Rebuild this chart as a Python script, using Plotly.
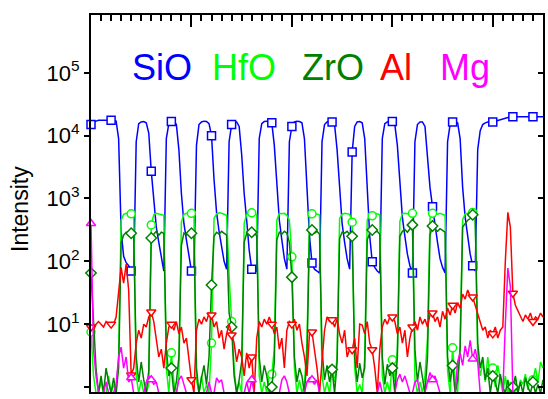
import plotly.graph_objects as go

# ---------------- data ----------------
depth_step = 0.25
n_points = 181
depth = [i * depth_step for i in range(n_points)]
marker_every = 8

sio = [15000, 16500, 17000, 17500, 17500, 17500, 17500, 17500, 17500, 17500,
       17000, 9000, 300, 120, 95, 85, 70, 65, 8000, 15500,
       16500, 16800, 16000, 11000, 2700, 900, 350, 200, 110, 70,
       9000, 15500, 16800, 17000, 15000, 6000, 1200, 400, 220, 130,
       70, 65, 7000, 15000, 16500, 17000, 16800, 15500, 10000, 2000,
       600, 300, 180, 100, 75, 8000, 15000, 16500, 16500, 14000,
       5000, 1200, 450, 150, 75, 68, 70, 9000, 15500, 16800,
       17000, 16500, 16000, 7000, 1500, 450, 220, 110, 75, 8000,
       14000, 16500, 17000, 16800, 16000, 9000, 1500, 250, 94, 75,
       70, 65, 8000, 15000, 16500, 16800, 16500, 15000, 6000, 1300,
       400, 200, 110, 75, 5500, 14000, 16500, 16800, 16000, 9000,
       1500, 250, 98, 80, 70, 65, 9000, 15500, 16500, 17000,
       16800, 15000, 7000, 1500, 500, 250, 130, 85, 65, 8000,
       15000, 16500, 16500, 14000, 5000, 1500, 740, 350, 200, 110,
       80, 65, 8000, 15000, 16500, 16800, 16000, 9000, 1500, 500,
       250, 130, 85, 70, 6000, 12000, 15000, 16000, 16500, 16500,
       16500, 17000, 17500, 18000, 18500, 19000, 19500, 19500, 20000, 20000,
       20000, 20000, 20000, 20000, 20000, 20000, 20000, 20000, 20000, 20000, 20000]

hfo = [7.5, 1.5, 0.8, 0.8, 1.2, 0.8, 0.8, 1.5, 0.8, 1.1,
       0.8, 3, 450, 560, 580, 560, 570, 540, 1.5, 0.8,
       1.3, 0.8, 0.8, 1.1, 380, 550, 580, 570, 560, 540,
       2, 0.8, 3.5, 1.2, 0.8, 1.5, 420, 560, 580, 570,
       580, 550, 1.3, 0.8, 1.5, 0.8, 1.1, 0.8, 5, 480,
       570, 590, 580, 560, 540, 60, 11, 2, 0.8, 1.2,
       0.8, 400, 560, 580, 590, 570, 550, 1.5, 0.8, 1.2,
       0.8, 1.6, 1.6, 4, 450, 580, 570, 580, 540, 450,
       118, 2, 0.8, 1.3, 0.8, 1.1, 5, 500, 570, 580,
       570, 550, 1.5, 0.8, 1.2, 0.8, 1.9, 1.2, 3, 480,
       560, 580, 570, 560, 420, 2, 0.8, 1.1, 0.8, 3,
       450, 570, 530, 580, 570, 550, 1.5, 0.8, 1.2, 0.8,
       2.7, 1.2, 4, 430, 570, 580, 570, 560, 580, 1.3,
       0.8, 1.2, 0.8, 1.5, 6, 480, 580, 570, 560, 580,
       560, 540, 1.8, 0.8, 4.2, 1.3, 0.8, 5, 460, 570,
       580, 570, 600, 560, 3, 1.5, 2.5, 1.2, 3, 1.5,
       2, 1, 2.2, 1.3, 0.8, 1.5, 0.8, 1.2, 0.97, 1.4,
       0.8, 1.3, 1.1, 1.6, 0.9, 1.4, 1.3, 2, 1.2, 2.5, 2]

zro = [65, 12, 2, 0.8, 1.5, 0.8, 2, 1.2, 0.8, 1.4,
       0.8, 2, 200, 260, 290, 270, 280, 250, 3, 1.2,
       2.5, 1.3, 0.8, 1.8, 235, 270, 300, 260, 290, 280,
       4, 1.5, 2, 0.8, 1.2, 3, 180, 280, 260, 300,
       280, 260, 2, 0.8, 1.4, 2.2, 1.1, 3, 42, 250,
       290, 270, 300, 280, 260, 15, 9, 1.5, 0.8, 1.3,
       2.5, 200, 280, 300, 290, 270, 260, 3, 1.2, 2.2,
       1.5, 0.8, 1, 2.5, 220, 290, 270, 300, 280, 200,
       56, 3, 1.2, 2, 1.5, 0.8, 3, 250, 315, 280,
       300, 270, 4, 1.3, 2.2, 1.2, 1.9, 0.8, 2.5, 230,
       290, 280, 300, 270, 250, 3, 1.2, 2.4, 1.4, 2,
       220, 280, 315, 290, 300, 270, 3, 1.1, 2.3, 1.5,
       2, 0.8, 3, 250, 300, 320, 290, 330, 380, 4,
       1.2, 2.5, 1.3, 0.8, 3, 260, 365, 320, 300, 330,
       310, 290, 3, 1.2, 2.2, 0.8, 1.3, 4, 350, 400,
       450, 480, 550, 500, 5, 2, 3, 1.3, 2, 0.8,
       1.5, 1.2, 0.8, 1.6, 1, 0.8, 1.3, 0.8, 1, 1.5,
       0.8, 1.2, 0.8, 1.4, 1, 0.8, 1.2, 0.8, 1.1, 0.8, 1.3]

al = [9, 8, 10, 11, 10, 9, 11, 10, 10, 10,
      13, 30, 80, 45, 90, 35, 1.55, 2, 5, 8,
      6, 10, 9, 13, 15.6, 11, 6, 3, 4, 2,
      5, 9, 10, 8, 11, 7, 9, 5, 6, 2.5,
      1.3, 0.8, 8, 12, 10, 13, 11, 15, 14, 9,
      11, 6, 8, 4, 7, 10, 6.7, 5, 2.5, 4,
      3, 1.5, 3.5, 2, 3, 0.8, 6, 11, 9, 12,
      10, 13, 10, 7, 9, 4, 6, 2, 8, 11,
      10, 12, 8, 10, 5, 3, 1.5, 7, 7.5, 4,
      2, 0.8, 3, 8, 13, 11, 11.7, 9, 12, 7,
      5, 8, 3, 4, 3.9, 6, 2, 10, 9.7, 7,
      11, 5, 3.9, 2, 0.8, 4, 9, 12, 10, 13,
      13, 11, 7, 9, 5, 8, 3, 6, 9, 11,
      8, 13, 10, 12, 9, 14, 15, 11, 13, 9,
      16, 12, 18, 14, 20, 15, 22, 18, 30, 25,
      35, 28, 27, 20, 14, 10, 8, 9, 6, 8,
      7, 9, 6, 8, 9, 100, 600, 350, 31, 20,
      16, 13, 11, 14, 12, 15, 11, 13, 12, 15, 13]

mg = [400, 4, 1.5, 0.8, 0.8, 0.8, 1.2, 0.8, 0.8, 0.8,
      1.1, 3, 4.3, 2, 3, 1.2, 1.4, 0.8, 0.8, 0.8,
      0.8, 0.8, 1.2, 1.5, 1.3, 1.1, 1.2, 0.8, 0.8, 0.8,
      0.8, 0.8, 0.8, 0.8, 0.8, 1.3, 1.5, 1.1, 0.8, 0.8,
      0.8, 0.8, 0.8, 0.8, 0.8, 0.8, 0.8, 1.2, 0.8, 0.8,
      1.4, 1.2, 1.3, 0.8, 0.8, 0.8, 0.8, 0.8, 0.8, 0.8,
      0.8, 0.8, 1.2, 0.8, 1.3, 0.8, 0.8, 0.8, 0.8, 0.8,
      0.8, 0.8, 0.8, 0.8, 0.8, 0.8, 1.3, 1.5, 1.2, 0.8,
      0.8, 0.8, 0.8, 0.8, 0.8, 0.8, 1.2, 1.4, 1.3, 1.1,
      1.3, 0.8, 0.8, 0.8, 0.8, 0.8, 0.8, 0.8, 0.8, 0.8,
      0.8, 0.8, 0.8, 0.8, 0.8, 0.8, 0.8, 0.8, 0.8, 0.8,
      0.8, 0.8, 0.8, 0.8, 0.8, 1.2, 0.8, 0.8, 0.8, 0.8,
      0.8, 0.8, 1.3, 1.6, 1.2, 1.5, 1.1, 0.8, 0.8, 1.2,
      1.3, 0.8, 0.8, 0.8, 1.2, 1.7, 1.3, 1.5, 1.1, 0.8,
      0.8, 0.8, 0.8, 0.8, 0.8, 0.8, 2.5, 3.5, 2.2, 4.5,
      3, 5.5, 2.8, 4, 2.5, 0.8, 0.8, 0.8, 0.8, 0.8,
      0.8, 0.8, 0.8, 0.8, 0.8, 10, 78, 40, 0.8, 0.8,
      0.8, 0.8, 0.8, 0.8, 0.8, 0.8, 0.8, 0.8, 0.8, 0.8, 0.8]

series_names = ["SiO", "HfO", "ZrO", "Al", "Mg"]
series_values = [sio, hfo, zro, al, mg]
series_colors = ["#0000FF", "#00FF00", "#008000", "#FF0000", "#FF00FF"]
series_symbols = ["square", "circle", "diamond", "triangle-down", "triangle-up"]

y_tick_vals = [1, 10, 100, 1000, 10000, 100000]
y_tick_text = ["", "10<sup>1</sup>", "10<sup>2</sup>", "10<sup>3</sup>",
               "10<sup>4</sup>", "10<sup>5</sup>"]
y_label = "Intensity"

for nm, v in zip(series_names, series_values):
    assert len(v) == n_points, (nm, len(v))

# ---------------- figure ----------------
FONT = "Liberation Sans, Arial, sans-serif"
W, H = 548, 399
ML, MR, MT, MB = 91, 5, 15, 7
PW, PH = W - ML - MR, H - MT - MB
Y_RANGE = [-0.08, 5.92]
X_RANGE = [0, 45]

fig = go.Figure()
for nm, vals, col, sym in zip(series_names, series_values, series_colors, series_symbols):
    fig.add_trace(go.Scatter(x=depth, y=vals, mode="lines",
                             line=dict(color=col, width=1.5),
                             showlegend=False, hoverinfo="skip"))
    fig.add_trace(go.Scatter(x=depth[::marker_every], y=vals[::marker_every],
                             mode="markers", cliponaxis=False,
                             marker=dict(symbol=sym, size=8, color="white",
                                         line=dict(color=col, width=1.5)),
                             showlegend=False, hoverinfo="skip"))

# helper trace for mirrored (top / right) axes
fig.add_trace(go.Scatter(x=[], y=[], xaxis="x2", yaxis="y2", showlegend=False))

axis_common = dict(showgrid=False, zeroline=False, showline=True,
                   linecolor="black", linewidth=2, tickcolor="black")

fig.update_layout(
    width=W, height=H,
    margin=dict(l=ML, r=MR, t=MT, b=MB),
    paper_bgcolor="white", plot_bgcolor="white",
    showlegend=False,
    font=dict(family=FONT, color="black"),
    xaxis=dict(range=X_RANGE, ticks="", showticklabels=False, **axis_common),
    xaxis2=dict(range=X_RANGE, overlaying="x", side="top", anchor="y",
                ticks="inside", ticklen=12, tickwidth=1.5, tick0=0, dtick=10,
                minor=dict(ticks="inside", ticklen=6, tickwidth=1.5, tick0=0,
                           dtick=1, tickcolor="black"),
                showticklabels=False, **axis_common),
    yaxis=dict(type="log", range=Y_RANGE, ticks="outside", ticklen=5,
               tickwidth=1.5, tickvals=y_tick_vals, ticktext=y_tick_text,
               tickfont=dict(size=22, family=FONT, color="black"),
               **axis_common),
    yaxis2=dict(type="log", range=Y_RANGE, overlaying="y", side="right",
                anchor="x", ticks="inside", ticklen=5, tickwidth=1.5,
                tickvals=y_tick_vals, showticklabels=False, **axis_common),
)

def px_to_paper_x(px):
    return (px - ML) / PW

def px_to_paper_y(py):
    return (MT + PH - py) / PH

annotations = [dict(text=y_label, x=px_to_paper_x(20), y=px_to_paper_y(209),
                    xref="paper", yref="paper", textangle=-90, showarrow=False,
                    xanchor="center", yanchor="middle",
                    font=dict(size=23, family=FONT, color="black"))]

legend_left_px = [130, 210, 300, 378, 438]
for nm, col, lx in zip(series_names, series_colors, legend_left_px):
    annotations.append(dict(text=nm, x=px_to_paper_x(lx), y=px_to_paper_y(67),
                            xref="paper", yref="paper", showarrow=False,
                            xanchor="left", yanchor="middle",
                            font=dict(size=36, family=FONT, color=col)))
fig.update_layout(annotations=annotations)

fig.write_html("out.html")
